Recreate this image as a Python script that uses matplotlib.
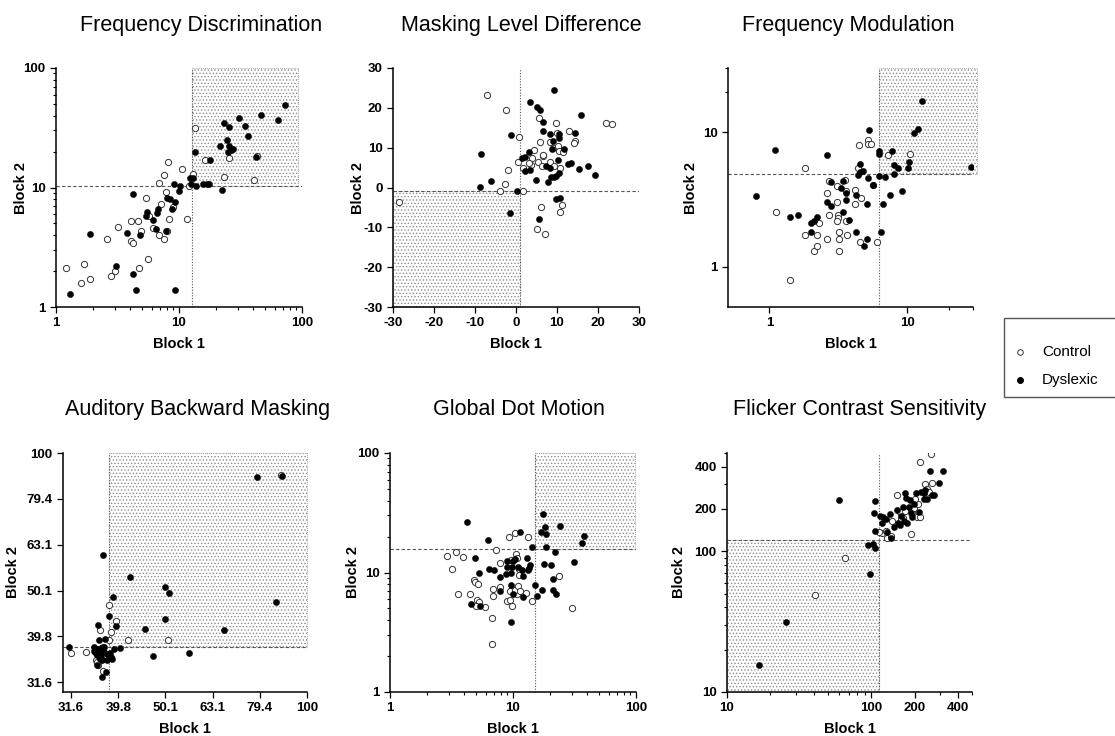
import matplotlib
matplotlib.use("Agg")
import matplotlib.pyplot as plt
import matplotlib.ticker as mticker
from matplotlib.patches import Rectangle
from matplotlib.lines import Line2D

plt.rcParams['font.family'] = ['Liberation Sans', 'DejaVu Sans']
plt.rcParams['hatch.linewidth'] = 0.6

# ---------------- data ----------------
titles = ["Frequency Discrimination", "Masking Level Difference", "Frequency Modulation",
          "Auditory Backward Masking", "Global Dot Motion", "Flicker Contrast Sensitivity"]

# Frequency Discrimination
fd_ctrl_x = [1.2, 1.6, 1.7, 1.9, 2.6, 2.8, 3.0, 3.2, 4.1, 4.1, 4.2, 4.6, 4.7, 4.9, 5.4, 5.6, 5.7, 6.2, 6.9,
             6.9, 7.2, 7.6, 7.6, 7.9, 8.0, 8.2, 8.3, 9.0, 10.5, 11.7, 12.1, 12.9, 13.5, 16.2, 23.2, 25.3, 40.9, 43.3]
fd_ctrl_y = [2.1, 1.6, 2.3, 1.7, 3.7, 1.8, 2.0, 4.7, 5.2, 3.6, 3.4, 5.2, 2.1, 4.3, 8.2, 2.5, 5.8, 4.6, 4.0,
             11.0, 7.3, 3.7, 12.7, 9.1, 4.3, 16.5, 5.4, 6.9, 14.3, 5.4, 10.2, 13.0, 31.6, 17.0, 12.2, 17.8, 11.6, 18.2]
fd_dys_x = [1.29, 1.9, 3.1, 3.8, 4.2, 4.2, 4.5, 4.8, 5.4, 5.5, 6.2, 6.5, 6.6, 6.7, 7.8, 8.0, 8.5, 8.7, 9.3, 9.1,
            10.0, 10.2, 9.3, 12.4, 13.1, 12.6, 13.6, 13.8, 15.8, 16.9, 17.6, 18.0, 21.6, 22.5, 23.3, 24.7, 25.3,
            25.3, 24.8, 26.4, 27.4, 30.7, 34.6, 36.1, 42.2, 46.7, 63.8, 72.8]
fd_dys_y = [1.29, 4.1, 2.2, 4.2, 8.9, 1.9, 1.4, 4.0, 5.8, 6.2, 5.3, 4.5, 6.1, 6.6, 4.3, 8.2, 8.0, 6.6, 7.6, 10.6,
            9.3, 10.2, 1.4, 11.9, 12.1, 10.6, 20.0, 10.3, 10.8, 10.6, 10.6, 16.9, 22.4, 9.6, 34.8, 24.9, 31.8,
            22.1, 20.0, 20.6, 21.2, 38.5, 32.8, 27.2, 18.0, 40.1, 36.8, 49.2]

# Masking Level Difference
mld_ctrl_x = [-7.0, -2.5, -28.6, -2.6, -3.8, -2.0, 0.7, 0.5, 1.8, 1.8, 5.5, 5.8, 4.5, 3.9, 3.7, 3.1, 5.4, 6.3,
              6.6, 6.7, 6.0, 5.0, 7.1, 8.3, 8.2, 9.0, 9.7, 10.0, 10.2, 10.5, 10.7, 9.3, 11.5, 12.9, 10.8, 11.2,
              14.3, 14.1, 22.0, 23.4]
mld_ctrl_y = [23.1, 19.4, -3.6, 0.9, -0.8, 4.4, 12.6, 6.4, -1.0, 5.0, 17.5, 11.4, 9.3, 7.5, 5.7, 6.2, 6.3, 5.5,
              7.9, 8.2, -5.0, -10.3, -11.6, 6.5, 11.5, 9.9, 16.2, 13.6, 10.3, 9.2, 5.0, 5.5, 8.8, 14.1, -6.2, -4.3,
              11.7, 11.2, 16.2, 16.0]
mld_dys_x = [-8.9, -8.5, -6.2, -1.3, -1.5, 0.2, 1.5, 2.2, 2.1, 3.3, 3.2, 3.5, 5.0, 4.9, 5.5, 5.9, 6.7, 6.6, 7.2,
             7.7, 8.2, 8.2, 8.5, 9.2, 9.0, 8.8, 9.3, 9.7, 9.7, 10.4, 10.4, 10.2, 10.5, 10.8, 11.7, 12.6, 13.3,
             14.5, 15.3, 15.8, 17.6, 19.3]
mld_dys_y = [0.1, 8.4, 1.7, 13.1, -6.3, -1.0, 7.3, 7.7, 4.2, 21.4, 8.8, 4.3, 20.1, 1.9, -7.9, 19.5, 16.5, 14.1,
             5.5, 1.3, 13.4, 5.0, 2.7, 24.5, 11.7, 9.6, 2.7, 2.9, -2.9, 13.4, 12.4, 6.9, 3.7, -2.6, 9.6, 5.9, 6.1,
             13.6, 4.7, 18.3, 5.3, 3.2]

# Frequency Modulation
fm_ctrl_x = [1.12, 1.40, 1.80, 1.80, 2.11, 2.20, 2.20, 2.30, 2.60, 2.60, 2.72, 2.72, 3.08, 3.10, 3.12, 3.15,
             3.21, 3.21, 3.21, 3.08, 3.52, 3.60, 3.58, 3.68, 4.18, 4.18, 4.47, 4.42, 4.60, 4.55, 5.19, 5.22,
             5.43, 5.65, 6.07, 7.21, 10.5]
fm_ctrl_y = [2.53, 0.80, 5.42, 1.71, 1.30, 1.41, 1.71, 2.12, 3.53, 1.61, 4.31, 2.42, 3.95, 3.02, 2.42, 2.31,
             1.82, 1.61, 1.30, 2.20, 4.43, 3.63, 2.20, 1.71, 3.73, 2.94, 8.04, 5.42, 3.24, 1.51, 8.71, 8.23,
             8.19, 4.02, 1.51, 6.74, 6.89]
fm_dys_x = [0.80, 1.10, 1.40, 1.60, 2.00, 2.00, 2.09, 2.20, 2.60, 2.60, 2.79, 2.79, 3.30, 3.39, 3.39, 3.58,
            3.58, 3.79, 4.28, 4.28, 4.40, 4.52, 4.52, 4.78, 5.08, 5.08, 5.19, 5.28, 4.86, 5.68, 6.28, 6.28,
            6.28, 6.49, 6.67, 6.90, 7.45, 7.75, 8.01, 8.01, 8.51, 9.20, 10.1, 10.3, 11.2, 12.0, 12.7, 29.2]
fm_dys_y = [3.37, 7.38, 2.32, 2.43, 2.11, 1.80, 2.20, 2.32, 6.78, 3.02, 4.23, 2.84, 3.84, 4.36, 2.53, 3.53,
            3.11, 2.22, 3.43, 1.80, 4.83, 5.84, 5.06, 5.18, 2.94, 1.61, 4.57, 10.35, 1.41, 4.02, 7.30, 6.89,
            4.75, 1.80, 2.94, 4.67, 3.43, 7.21, 5.67, 4.92, 5.42, 3.63, 5.42, 6.04, 9.78, 10.6, 17.0, 5.51]

# Auditory Backward Masking
abm_ctrl_x = [31.6, 34.0, 36.4, 38.1, 39.3, 38.4, 38.1, 41.7, 50.7, 36.4, 36.1, 36.9, 35.7, 37.0, 88.0, 36.4, 35.9]
abm_ctrl_y = [36.6, 36.8, 41.0, 46.5, 43.1, 40.7, 39.1, 39.1, 39.1, 35.4, 34.5, 33.5, 35.3, 37.7, 89.6, 37.4, 35.0]
abm_dys_x = [31.3, 35.4, 35.7, 36.1, 36.3, 35.8, 36.9, 37.3, 37.5, 36.8, 38.1, 38.8, 39.3, 39.0, 40.2, 42.1,
             45.4, 47.1, 49.9, 50.0, 51.0, 56.2, 66.8, 78.5, 85.9, 88.3, 35.4, 35.8, 36.0, 36.3, 36.5, 36.6,
             36.7, 36.4, 36.2, 35.8, 35.5, 36.9, 37.2, 37.6, 38.2, 38.5, 38.7, 37.7, 36.6, 37.1]
abm_dys_y = [37.8, 36.9, 36.6, 42.2, 39.1, 34.5, 60.0, 39.3, 33.2, 32.4, 44.0, 48.4, 41.9, 37.4, 37.6, 53.7,
             41.4, 36.0, 51.0, 43.4, 49.6, 36.6, 41.1, 88.8, 47.2, 89.1, 37.7, 37.3, 36.9, 36.6, 36.3, 35.8,
             35.3, 35.5, 36.0, 36.3, 36.8, 37.3, 36.8, 36.5, 36.6, 35.8, 35.6, 35.3, 37.6, 37.7]

# Global Dot Motion
gdm_ctrl_x = [2.92, 3.21, 3.42, 3.59, 3.90, 4.50, 4.82, 4.91, 5.16, 5.07, 5.33, 5.00, 5.92, 6.79, 6.92, 6.92,
              6.71, 7.23, 7.84, 7.84, 8.88, 9.34, 9.46, 9.51, 9.64, 9.88, 10.4, 10.6, 10.7, 10.8, 10.4, 11.0,
              11.1, 11.1, 11.4, 12.7, 13.3, 14.2, 23.8, 30.0]
gdm_ctrl_y = [13.8, 10.8, 14.8, 6.64, 13.6, 6.64, 8.71, 8.27, 7.96, 5.84, 5.69, 5.23, 5.17, 4.13, 7.27, 6.35,
              2.51, 15.4, 11.9, 7.60, 5.77, 20.0, 7.00, 5.88, 12.7, 5.23, 21.3, 14.3, 13.2, 6.64, 7.13, 7.76,
              10.8, 9.47, 7.00, 6.69, 20.0, 5.73, 9.35, 5.00]
gdm_dys_x = [4.20, 4.91, 4.53, 5.33, 5.39, 6.30, 6.42, 7.01, 7.84, 7.84, 8.72, 8.88, 8.88, 9.57, 9.64, 9.64,
             9.88, 9.94, 9.94, 10.4, 11.0, 11.5, 11.9, 12.1, 12.0, 13.1, 13.3, 13.6, 13.8, 14.3, 15.0, 15.6,
             16.9, 17.1, 17.6, 18.0, 18.2, 18.4, 18.5, 20.5, 21.3, 21.3, 21.9, 22.2, 23.9, 31.3, 36.6, 38.0]
gdm_dys_y = [26.5, 13.3, 5.47, 10.0, 5.27, 18.7, 10.8, 10.4, 9.23, 6.95, 9.71, 12.5, 11.2, 9.84, 7.80, 3.82,
             11.2, 12.5, 6.56, 13.0, 11.2, 21.7, 10.4, 9.40, 6.27, 13.2, 10.5, 10.9, 11.6, 16.3, 7.80, 6.39,
             21.7, 7.13, 30.8, 11.8, 24.2, 16.5, 20.8, 11.6, 8.77, 7.08, 14.8, 6.56, 24.4, 12.3, 17.7, 20.2]

# Flicker Contrast Sensitivity
fcs_ctrl_x = [259, 218, 151, 237, 264, 243, 189, 119, 126, 129, 138, 140, 165, 159, 172, 192, 197, 208, 219,
              210, 202, 162, 65.8, 40.8, 113, 252]
fcs_ctrl_y = [490, 435, 250, 303, 304, 279, 132, 134, 139, 124, 128, 165, 173, 189, 193, 191, 202, 174, 176,
              216, 237, 170, 89.2, 49.1, 138, 264]
fcs_dys_x = [16.8, 25.6, 59.6, 97.9, 95.3, 103, 106, 105, 107, 107, 115, 118, 120, 127, 129, 137, 136, 143,
             151, 153, 159, 162, 165, 168, 172, 175, 177, 182, 187, 189, 192, 204, 215, 221, 231, 233, 243,
             256, 264, 273, 296, 315, 237, 197]
fcs_dys_y = [15.5, 31.5, 233, 69.5, 111, 113, 105, 186, 228, 140, 178, 158, 174, 169, 138, 124, 184, 150,
             196, 160, 155, 178, 207, 165, 260, 241, 160, 205, 231, 186, 174, 260, 191, 264, 260, 234, 234,
             370, 253, 253, 306, 370, 272, 216]

# cut-off lines (x, y) and shaded region (x0, x1, y0, y1)
cutoff_x = [12.8, 0.9, 6.2, 38.1, 15.1, 114]
cutoff_y = [10.2, -1.0, 4.9, 37.7, 15.7, 120]
shade_regions = [(12.8, 93, 10.2, 100), (-30, 0.9, -30, -1.0), (6.2, 32, 4.9, 30),
                 (38.1, 100, 37.7, 100), (15.1, 99, 15.7, 100), (10, 114, 10, 120)]

abm_ticks = [31.6, 39.8, 50.1, 63.1, 79.4, 100]
abm_tick_labels = ["31.6", "39.8", "50.1", "63.1", "79.4", "100"]
fcs_ticks = [10, 100, 200, 400]
fcs_tick_labels = ["10", "100", "200", "400"]

series = [(fd_ctrl_x, fd_ctrl_y, fd_dys_x, fd_dys_y),
          (mld_ctrl_x, mld_ctrl_y, mld_dys_x, mld_dys_y),
          (fm_ctrl_x, fm_ctrl_y, fm_dys_x, fm_dys_y),
          (abm_ctrl_x, abm_ctrl_y, abm_dys_x, abm_dys_y),
          (gdm_ctrl_x, gdm_ctrl_y, gdm_dys_x, gdm_dys_y),
          (fcs_ctrl_x, fcs_ctrl_y, fcs_dys_x, fcs_dys_y)]

# ---------------- layout ----------------
W, H = 1115, 736
fig = plt.figure(figsize=(W / 100, H / 100), dpi=100)

# axes boxes in pixels: left, top, right, bottom
boxes = [(56, 68, 302, 307), (393, 68, 639, 307), (728, 68, 973, 307),
         (63, 453, 307, 692), (390, 453, 636, 692), (727, 453, 972, 692)]
title_cx = [201, 521, 848, 198, 519, 860]
title_base = [31, 31, 31, 415, 415, 415]
ylabel_right = [28, 365, 698, 20, 360, 686]

LOG_MINOR = [2, 3, 4, 5, 6, 7, 8, 9, 20, 30, 40, 50, 60, 70, 80, 90]

def style_ticks(ax, axis, major, labels, minor):
    setter = ax.set_xticks if axis == 'x' else ax.set_yticks
    setter(major, labels, fontweight='bold', fontsize=9.5)
    setter(minor, minor=True)
    getattr(ax, axis + 'axis').set_minor_formatter(mticker.NullFormatter())

for i, (l, t, r, b) in enumerate(boxes):
    ax = fig.add_axes([l / W, 1 - b / H, (r - l) / W, (b - t) / H])
    cx, cy, dx, dy = series[i]
    if i != 1:
        ax.set_xscale('log')
        ax.set_yscale('log')
    for s in ('top', 'right'):
        ax.spines[s].set_visible(False)
    for s in ('left', 'bottom'):
        ax.spines[s].set_linewidth(1.1)
    ax.tick_params(which='major', direction='out', length=4, width=0.9)
    ax.tick_params(which='minor', direction='out', length=2.5, width=0.8)

    if i in (0, 4):
        ax.set_xlim(1, 100); ax.set_ylim(1, 100)
        for a in 'xy':
            style_ticks(ax, a, [1, 10, 100], ["1", "10", "100"], LOG_MINOR)
    elif i == 1:
        ax.set_xlim(-30, 30); ax.set_ylim(-30, 30)
        tk = [-30, -20, -10, 0, 10, 20, 30]
        for a in 'xy':
            style_ticks(ax, a, tk, [str(v) for v in tk], [])
    elif i == 2:
        ax.set_xlim(0.5, 30); ax.set_ylim(0.5, 30)
        for a in 'xy':
            style_ticks(ax, a, [1, 10], ["1", "10"], [20, 30])
    elif i == 3:
        ax.set_xlim(30.4, 100); ax.set_ylim(30.1, 100)
        for a in 'xy':
            style_ticks(ax, a, abm_ticks, abm_tick_labels, [])
    else:
        ax.set_xlim(10, 500); ax.set_ylim(10, 500)
        mn = [20, 30, 40, 50, 60, 70, 80, 90, 300, 500]
        for a in 'xy':
            style_ticks(ax, a, fcs_ticks, fcs_tick_labels, mn)

    x0, x1, y0, y1 = shade_regions[i]
    ax.add_patch(Rectangle((x0, y0), x1 - x0, y1 - y0, facecolor='none', edgecolor='#8c8c8c',
                           hatch='.....', linewidth=0.6, linestyle=(0, (1, 1.5)), zorder=1, clip_on=False))
    ax.axvline(cutoff_x[i], color='#555555', lw=0.8, ls=(0, (1, 1.5)), zorder=2)
    ax.axhline(cutoff_y[i], color='#555555', lw=0.8, ls=(0, (3, 2)), zorder=2)

    ax.scatter(cx, cy, s=20, facecolors='white', edgecolors='#333333', linewidths=0.7, zorder=3)
    ax.scatter(dx, dy, s=20, facecolors='black', edgecolors='black', linewidths=0.3, zorder=4)

    ax.set_xlabel("Block 1", fontsize=10.5, fontweight='bold')
    ax.set_ylabel("Block 2", fontsize=10.5, fontweight='bold')
    ax.xaxis.set_label_coords(0.5, -(b + 30 - b) / (b - t) - 0.0)
    ax.xaxis.set_label_coords(0.5, -30 / (b - t))
    ax.yaxis.set_label_coords((ylabel_right[i] - l) / (r - l), 0.5)

    fig.text(title_cx[i] / W, 1 - title_base[i] / H, titles[i], ha='center', va='baseline', fontsize=15.5)

# legend box (extends past right edge of figure)
fig.add_artist(Rectangle((1004 / W, 1 - 397 / H), 130 / W, 79 / H, transform=fig.transFigure,
                         facecolor='white', edgecolor='#555555', linewidth=1.0))
fig.add_artist(Line2D([1020 / W], [1 - 352 / H], transform=fig.transFigure, marker='o', markersize=4,
                      markerfacecolor='white', markeredgecolor='#333333', markeredgewidth=0.7, linestyle='none'))
fig.add_artist(Line2D([1020 / W], [1 - 380 / H], transform=fig.transFigure, marker='o', markersize=4,
                      markerfacecolor='black', markeredgecolor='black', linestyle='none'))
fig.text(1042 / W, 1 - 352 / H, "Control", fontsize=11, va='center', ha='left')
fig.text(1042 / W, 1 - 380 / H, "Dyslexic", fontsize=11, va='center', ha='left')

fig.savefig("out.png", dpi=100)
